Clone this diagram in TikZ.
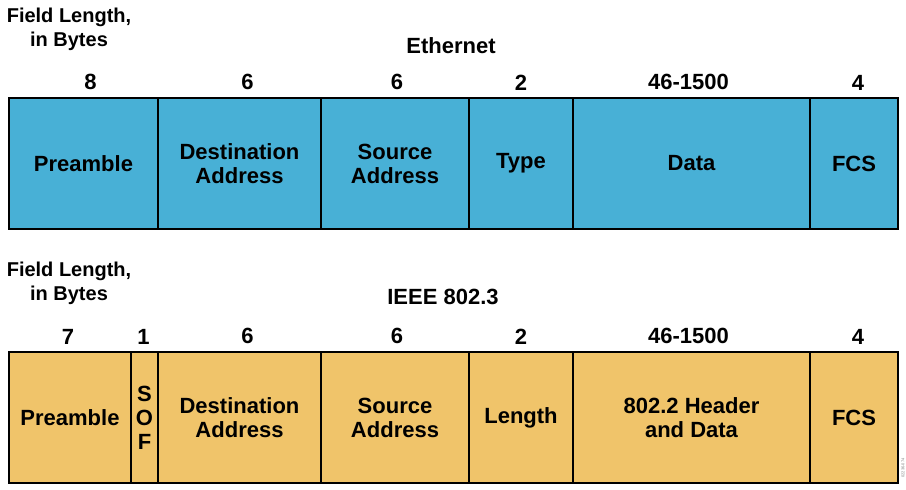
\documentclass[tikz,border=0pt]{standalone}
\usepackage{fontspec}
\setmainfont{Liberation Sans}
\usetikzlibrary{positioning}
\definecolor{azulEth}{RGB}{72,176,214}
\definecolor{ocreIEEE}{RGB}{240,196,106}
\tikzstyle{every path}=[line width=1.6pt, line join=miter]
\tikzset{
  campo/.style={draw, outer sep=0pt, inner sep=0pt, minimum height=131pt, align=center,
    font=\fontsize{22}{24}\selectfont\bfseries},
  eth/.style={campo, fill=azulEth},
  ieee/.style={campo, fill=ocreIEEE},
  bytes/.style={inner sep=0pt, font=\fontsize{22}{24}\selectfont\bfseries},
  titulo/.style={inner sep=0pt, align=center, font=\fontsize{22}{24}\selectfont\bfseries},
  leyenda/.style={inner sep=0pt, align=center, font=\fontsize{20}{24}\selectfont\bfseries}
}

\begin{document}
\begin{tikzpicture}[x=1pt, y=-1pt]
  \useasboundingbox (0,0) rectangle (906,490);
  %trama ethernet
  \node[leyenda] (lenA) at (69,29) {Field Length,\\in Bytes};
  \node[titulo] (ethT) at (451,46) {Ethernet};
  \node[eth, anchor=north west, minimum width=149pt] (preA) at (9,98) {Preamble};
  \node[eth, right=0pt of preA, minimum width=163pt] (dstA) {Destination\\Address};
  \node[eth, right=0pt of dstA, minimum width=148pt] (srcA) {Source\\Address};
  \node[eth, right=0pt of srcA, minimum width=104pt] (typA) {Type};
  \node[eth, right=0pt of typA, minimum width=237pt] (datA) {Data};
  \node[eth, right=0pt of datA, minimum width=88pt] (fcsA) {FCS};
  %longitudes ethernet
  \node[bytes, above=7pt of preA, xshift=7pt] (bpreA) {8};
  \node[bytes, above=7pt of dstA, xshift=8pt] (bdstA) {6};
  \node[bytes, above=7pt of srcA, xshift=2pt] (bsrcA) {6};
  \node[bytes, above=7pt of typA] (btypA) {2};
  \node[bytes, above=7pt of datA, xshift=-3pt] (bdatA) {46-1500};
  \node[bytes, above=7pt of fcsA, xshift=4pt] (bfcsA) {4};
  %trama ieee 802.3
  \node[leyenda] (lenB) at (69,283) {Field Length,\\in Bytes};
  \node[titulo] (ieeeT) at (443,297) {IEEE 802.3};
  \node[ieee, anchor=north west, minimum width=122pt] (preB) at (9,352) {Preamble};
  \node[ieee, right=0pt of preB, minimum width=27pt] (sofB) {S\\O\\F};
  \node[ieee, right=0pt of sofB, minimum width=163pt] (dstB) {Destination\\Address};
  \node[ieee, right=0pt of dstB, minimum width=148pt] (srcB) {Source\\Address};
  \node[ieee, right=0pt of srcB, minimum width=104pt] (lngB) {Length};
  \node[ieee, right=0pt of lngB, minimum width=237pt] (datB) {802.2 Header\\and Data};
  \node[ieee, right=0pt of datB, minimum width=88pt] (fcsB) {FCS};
  %longitudes ieee
  \node[bytes, above=7pt of preB, xshift=-2pt] (bpreB) {7};
  \node[bytes, above=7pt of sofB, xshift=-1pt] (bsofB) {1};
  \node[bytes, above=7pt of dstB, xshift=8pt] (bdstB) {6};
  \node[bytes, above=7pt of srcB, xshift=2pt] (bsrcB) {6};
  \node[bytes, above=7pt of lngB] (blngB) {2};
  \node[bytes, above=7pt of datB, xshift=-3pt] (bdatB) {46-1500};
  \node[bytes, above=7pt of fcsB, xshift=4pt] (bfcsB) {4};
  %codigo de figura
  \node[inner sep=0pt, rotate=90, text=gray, font=\fontsize{4}{5}\selectfont] (codigo) at (903,468) {02236-074};
\end{tikzpicture}
\end{document}
